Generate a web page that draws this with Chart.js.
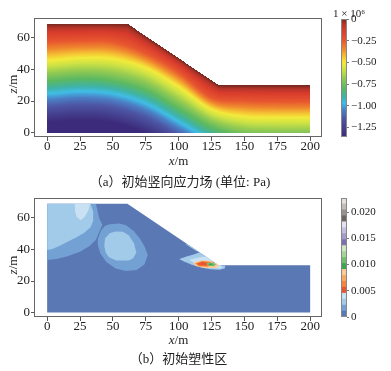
<!DOCTYPE html>
<html>
<head>
<meta charset="utf-8">
<script src="https://cdn.jsdelivr.net/npm/chart.js@4.4.1/dist/chart.umd.min.js"></script>
<style>
  body { margin: 0; width: 391px; height: 371px; background: #fff; position: relative; overflow: hidden;
         font-family: "Liberation Serif", "Noto Sans CJK SC", serif; color: #222; }
  canvas { position: absolute; }
  .t { position: absolute; white-space: nowrap; line-height: 1; transform: translate(-50%, -50%); font-size: 13px; }
  .rot { transform: translate(-50%, -50%) rotate(-90deg); }
</style>
</head>
<body>
<canvas id="stress" width="330" height="155" style="left:0;top:0"></canvas>
<canvas id="stressBar" width="57" height="155" style="left:334px;top:0"></canvas>
<canvas id="plastic" width="330" height="155" style="left:0;top:180px"></canvas>
<canvas id="plasticBar" width="57" height="155" style="left:334px;top:180px"></canvas>

<div class="t" style="left:178.5px;top:159.5px"><i>x</i>/m</div>
<div class="t rot" style="left:11.5px;top:84px"><i>z</i>/m</div>
<div class="t" style="left:180px;top:181px">（a）初始竖向应力场 (单位: Pa)</div>
<div class="t" style="left:349px;top:12.5px;font-size:11px">1 × 10⁶</div>

<div class="t" style="left:178.5px;top:338.5px"><i>x</i>/m</div>
<div class="t rot" style="left:11.5px;top:265px"><i>z</i>/m</div>
<div class="t" style="left:178.5px;top:358px">（b）初始塑性区</div>

<script>
// slope geometry (m)
const surfaceX = [0, 61, 130.5, 200];
const surfaceZ = [69, 69, 30, 30];

// panel (a): height of each stress contour, read at these x positions
const contourX = [0, 25, 50, 75, 100, 125, 150, 175, 200];
const c025 = [57.5, 58, 57.5, 50, 38, 22, 20, 19.5, 19.5];
const c050 = [45.7, 47.4, 46.8, 41.1, 29.1, 14.8, 10.2, 9.6, 9.6];
const c075 = [34.8, 36.3, 34.8, 29.1, 17.4, 5.4, -0.5, -1.5, -1.5];
const c100 = [23.2, 24.7, 23.2, 16.9, 5.4, -6, -11, -12, -12];
const c125 = [11.7, 13, 11.5, 5, -6, -17, -22, -23, -23];
const contourLevels = [0, -0.25, -0.5, -0.75, -1.0, -1.25];

const stressMin = -1.36, stressMax = 0;
const stressStops = [-1.36, -1.15, -1.05, -0.97, -0.9, -0.8, -0.68, -0.58, -0.5, -0.44, -0.35, -0.25, -0.12, -0.06, 0];
const stressColors = ['#3c2b7a', '#4d56a4', '#4b80c6', '#40bde6', '#3fb3a6', '#5bb862', '#95cb52', '#cde244',
                      '#f3ea3b', '#f5c634', '#ef8a2e', '#e8572f', '#d83b2c', '#b8352a', '#74281f'];
const stressTicks = [0, -0.25, -0.5, -0.75, -1.0, -1.25];
const stressTickLabels = ['0', '−0.25', '−0.50', '−0.75', '−1.00', '−1.25'];

// panel (b): plastic strain colour levels
const plasticLevels = [0, 0.00114, 0.00227, 0.0034, 0.00454, 0.00568, 0.00681, 0.00795, 0.00908, 0.01022, 0.01135,
                       0.01249, 0.01362, 0.01476, 0.0159, 0.01703, 0.01817, 0.0193, 0.02044, 0.02157, 0.0227];
const plasticColors = ['#5a78b3', '#74a1d4', '#a2cbe9', '#c9e1f2',
                       '#e8572e', '#f5843d', '#fba764', '#fccb95',
                       '#3fa452', '#72be6e', '#a5d497', '#cfe7c3',
                       '#7e70b0', '#a39cc9', '#c3bfdd', '#e3e0ef',
                       '#6b6661', '#99938e', '#c0bcb8', '#e2e1df'];
const plasticTicks = [0, 0.005, 0.01, 0.015, 0.02];
const plasticTickLabels = ['0', '0.005', '0.010', '0.015', '0.020'];

// panel (b) zones, outlines as [x, z]
const leftMedium = [[0,69],[37,69],[38,66],[39.5,60],[42,55.5],[39,50],[37,46],[32,42],[25,38.5],[15,35.5],[7,34],[0,33.3]];
const ringMedium = [[47.5,56],[55,56.5],[60,55.4],[66,51.5],[70.5,47],[74,42],[76.5,36.5],[74,30.5],[68,27],[60,26.3],
                    [52,28],[45,32],[40.5,37.5],[38.5,43],[38.6,47],[41,52],[44,55]];
const leftLight = [[0,69],[33,69],[35,64],[35,58],[33,54],[28,50.5],[22,47.5],[17,45.5],[10,42.5],[4,40.3],[0,39.7]];
const topBlob = [[21,69],[32.5,69],[31.5,65],[28.5,60.5],[25.5,58.5],[22.5,60.5],[21.2,64.5]];
const ringInner = [[44,47],[47.5,50.2],[52,51.3],[57.6,51.2],[62,49],[66,44],[67.8,38],[65.5,34.5],[62,33],[52.5,33],
                   [47,35],[44.5,38],[43.5,42]];
const slopeStreak = [[104,46],[112,41.5],[119,37.5],[122,36.2],[113,39.2],[106,43]];
const toeLight = [[100.5,34],[106,35.5],[112,37],[117,38.5],[121,36.6],[126,33.8],[130.5,30],[135.5,29.7],[135,28],
                  [131,27.2],[124,27.5],[117,28.6],[110,30.3],[104,32.3]];
const toePale = [[108,33.5],[116,35],[122,35.5],[128,32],[133,29.5],[132,28],[124,28.2],[115,29.8]];
const toePeach = [[111,31.5],[118,33.2],[126,32.6],[131,30],[128,28.3],[120,28.3],[113,29.5]];
const toeOrange = [[112.5,31.2],[118,32.7],[124,32.2],[127,30.5],[122,29],[115,29.4]];
const toeRed = [[114,31],[118,32.2],[122,31.6],[121,29.8],[116,29.8]];
const toeGreen = [[121,31.3],[125,31.8],[128.5,30.8],[127,29.4],[123,29.6]];
const toeDarkGreen = [[122.5,30.8],[125,31.1],[126,30.2],[123.5,30]];
const toeLilac = [[125.5,31.9],[127,32.1],[127.4,31.4],[126,31.3]];
const plasticZones = [[leftMedium, 1], [ringMedium, 1], [leftLight, 2], [topBlob, 3], [ringInner, 2], [slopeStreak, 2],
                      [toeLight, 2], [toePale, 3], [toePeach, 7], [toeOrange, 5], [toeRed, 4], [toeGreen, 9],
                      [toeDarkGreen, 8], [toeLilac, 13]];

const xTicks = [0, 25, 50, 75, 100, 125, 150, 175, 200];
const zTicks = [0, 20, 40, 60];

const axisFont = { family: '"Liberation Serif", serif', size: 13 };
const barFont = { family: '"Liberation Serif", serif', size: 11 };

function hex(c) { return [1, 3, 5].map(i => parseInt(c.slice(i, i + 2), 16)); }
const stressRgb = stressColors.map(hex);

function lerp(xa, ya, v) {
  for (let i = 0; i < xa.length - 1; i++) {
    if (v <= xa[i + 1]) return ya[i] + (ya[i + 1] - ya[i]) * (v - xa[i]) / (xa[i + 1] - xa[i]);
  }
  return ya[ya.length - 1];
}

// smooth curve through contour heights
function smooth(arr, v) {
  const step = contourX[1] - contourX[0];
  const t = v / step;
  const i = Math.max(0, Math.min(Math.floor(t), arr.length - 2));
  const f = t - i;
  const p0 = arr[Math.max(i - 1, 0)], p1 = arr[i], p2 = arr[i + 1], p3 = arr[Math.min(i + 2, arr.length - 1)];
  return 0.5 * (2 * p1 + (-p0 + p2) * f + (2 * p0 - 5 * p1 + 4 * p2 - p3) * f * f + (-p0 + 3 * p1 - 3 * p2 + p3) * f * f * f);
}

function stressAt(xv, z, s) {
  const h = [s, smooth(c025, xv), smooth(c050, xv), smooth(c075, xv), smooth(c100, xv), smooth(c125, xv)];
  for (let k = 0; k < h.length - 1; k++) {
    if (z >= h[k + 1]) {
      return contourLevels[k] + (contourLevels[k + 1] - contourLevels[k]) * (h[k] - z) / (h[k] - h[k + 1]);
    }
  }
  const n = h.length - 1;
  return contourLevels[n] + (contourLevels[n] - contourLevels[n - 1]) * (h[n] - z) / (h[n - 1] - h[n]);
}

function stressColor(v) {
  v = Math.max(stressMin, Math.min(stressMax, v));
  for (let i = 0; i < stressStops.length - 1; i++) {
    if (v <= stressStops[i + 1]) {
      const f = (v - stressStops[i]) / (stressStops[i + 1] - stressStops[i]);
      const a = stressRgb[i], b = stressRgb[i + 1];
      return [a[0] + (b[0] - a[0]) * f, a[1] + (b[1] - a[1]) * f, a[2] + (b[2] - a[2]) * f];
    }
  }
  return stressRgb[stressRgb.length - 1];
}

const stressField = {
  id: 'stressField',
  beforeDatasetsDraw(chart) {
    const { ctx, chartArea: a, scales: { x, y } } = chart;
    const ss = 3;
    const w = Math.round(a.right - a.left) * ss, h = Math.round(a.bottom - a.top) * ss;
    const off = document.createElement('canvas');
    off.width = w; off.height = h;
    const octx = off.getContext('2d');
    const img = octx.createImageData(w, h);
    for (let j = 0; j < h; j++) {
      const z = y.getValueForPixel(a.top + (j + 0.5) / ss);
      if (z < 0) continue;
      for (let i = 0; i < w; i++) {
        const xv = x.getValueForPixel(a.left + (i + 0.5) / ss);
        if (xv < 0 || xv > 200) continue;
        const s = lerp(surfaceX, surfaceZ, xv);
        if (z > s) continue;
        const c = stressColor(stressAt(xv, z, s));
        const k = (j * w + i) * 4;
        img.data[k] = c[0]; img.data[k + 1] = c[1]; img.data[k + 2] = c[2]; img.data[k + 3] = 255;
      }
    }
    octx.putImageData(img, 0, 0);
    ctx.save();
    ctx.imageSmoothingEnabled = true;
    ctx.drawImage(off, a.left, a.top, w / ss, h / ss);
    ctx.restore();
  }
};

function tracePath(ctx, x, y, pts) {
  ctx.beginPath();
  pts.forEach((p, i) => {
    const px = x.getPixelForValue(p[0]), py = y.getPixelForValue(p[1]);
    if (i) ctx.lineTo(px, py); else ctx.moveTo(px, py);
  });
  ctx.closePath();
}

const plasticField = {
  id: 'plasticField',
  beforeDatasetsDraw(chart) {
    const { ctx, scales: { x, y } } = chart;
    const domain = surfaceX.map((v, i) => [v, surfaceZ[i]]).concat([[200, 0], [0, 0]]);
    ctx.save();
    tracePath(ctx, x, y, domain);
    ctx.fillStyle = plasticColors[0];
    ctx.fill();
    ctx.clip();
    plasticZones.forEach(([pts, band]) => {
      tracePath(ctx, x, y, pts);
      ctx.fillStyle = plasticColors[band];
      ctx.fill();
    });
    ctx.restore();
  }
};

const frame = {
  id: 'frame',
  afterDraw(chart) {
    const { ctx, chartArea: a } = chart;
    ctx.save();
    ctx.strokeStyle = chart.options.frameColor || '#666';
    ctx.lineWidth = 1;
    ctx.strokeRect(Math.round(a.left) + 0.5, Math.round(a.top) + 0.5, Math.round(a.right - a.left) - 1, Math.round(a.bottom - a.top) - 1);
    ctx.restore();
  }
};

function mainChart(id, field) {
  return new Chart(document.getElementById(id), {
    type: 'scatter',
    data: { datasets: [] },
    options: {
      responsive: false, animation: false, events: [],
      layout: { padding: { top: 18, right: 8, left: 0, bottom: 0 } },
      plugins: { legend: { display: false }, tooltip: { enabled: false } },
      scales: {
        x: {
          type: 'linear', min: -10, max: 209,
          afterBuildTicks: s => { s.ticks = xTicks.map(v => ({ value: v })); },
          afterFit: s => { s.height = 18; },
          grid: { drawOnChartArea: false, tickLength: 4, color: '#555' },
          border: { display: false },
          ticks: { font: axisFont, color: '#222', padding: -2, autoSkip: false, maxRotation: 0 }
        },
        y: {
          type: 'linear', min: -2.8, max: 72.6,
          afterBuildTicks: s => { s.ticks = zTicks.map(v => ({ value: v })); },
          afterFit: s => { s.width = 34; },
          grid: { drawOnChartArea: false, tickLength: 3, color: '#555' },
          border: { display: false },
          ticks: { font: axisFont, color: '#222', padding: 1 }
        }
      }
    },
    plugins: [field, frame]
  });
}

function colorBar(id, datasets, min, max, ticks, labels, padTop) {
  return new Chart(document.getElementById(id), {
    type: 'bar',
    data: { labels: [''], datasets },
    options: {
      responsive: false, animation: false, events: [],
      frameColor: '#888',
      layout: { padding: { top: padTop, bottom: 155 - 137, left: 7, right: 0 } },
      plugins: { legend: { display: false }, tooltip: { enabled: false } },
      scales: {
        x: { display: false },
        y: {
          position: 'right', min, max,
          afterBuildTicks: s => { s.ticks = ticks.map(v => ({ value: v })); },
          afterFit: s => { s.width = 44; },
          grid: { drawOnChartArea: false, tickLength: 2, color: '#777' },
          border: { display: false },
          ticks: { font: barFont, color: '#222', padding: 2, callback: (v, i) => labels[i] }
        }
      }
    },
    plugins: [frame]
  });
}

mainChart('stress', stressField);
mainChart('plastic', plasticField);

colorBar('stressBar', [{
  data: [[stressMin, stressMax]],
  barPercentage: 1, categoryPercentage: 1, borderWidth: 0,
  backgroundColor(c) {
    const chart = c.chart;
    if (!chart.chartArea) return stressColors[0];
    const y = chart.scales.y;
    const g = chart.ctx.createLinearGradient(0, y.getPixelForValue(stressMin), 0, y.getPixelForValue(stressMax));
    stressStops.forEach((v, i) => g.addColorStop((v - stressMin) / (stressMax - stressMin), stressColors[i]));
    return g;
  }
}], stressMin, stressMax, stressTicks, stressTickLabels, 19);

colorBar('plasticBar', plasticColors.map((c, i) => ({
  data: [[plasticLevels[i], plasticLevels[i + 1]]],
  backgroundColor: c, borderWidth: 0, grouped: false,
  barPercentage: 1, categoryPercentage: 1
})), 0, plasticLevels[plasticLevels.length - 1], plasticTicks, plasticTickLabels, 18);
</script>
</body>
</html>
